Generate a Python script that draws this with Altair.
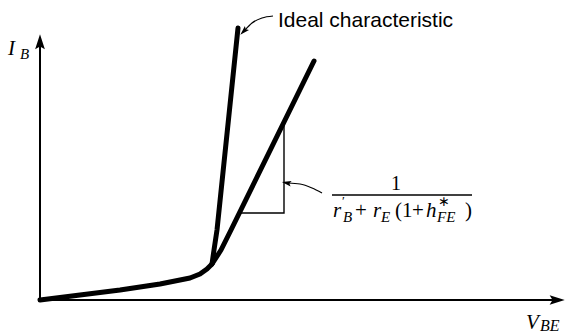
import altair as alt
import pandas as pd

# Base-emitter characteristic, V_BE along x, I_B along y (arbitrary units)
knee_v = [0, 40, 80, 120, 150, 160, 167, 172]
knee_i = [0, 5, 10, 16, 22, 26, 31, 36]

ideal_v = [172, 174, 177, 198]
ideal_i = [36, 50, 70, 272]

real_v = [172, 181, 191, 274]
real_i = [36, 50, 70, 239]

# slope triangle under the real characteristic
tri_v = [199, 244, 244]
tri_i = [87, 87, 177]

W, H = 565, 334
xs = alt.Scale(domain=[-40, 525], nice=False, zero=False)
ys = alt.Scale(domain=[-34, 300], nice=False, zero=False)


def curve(vs, is_, name):
    return pd.DataFrame({"v": vs, "i": is_, "o": range(len(vs)), "s": name})


curves = pd.concat([
    curve(knee_v, knee_i, "knee"),
    curve(ideal_v, ideal_i, "ideal"),
    curve(real_v, real_i, "real"),
])

X = lambda f="v": alt.X(f, type="quantitative", scale=xs, axis=None)
Y = lambda f="i": alt.Y(f, type="quantitative", scale=ys, axis=None)

lines = alt.Chart(curves).mark_line(
    color="black", strokeWidth=5, strokeCap="round", strokeJoin="round"
).encode(x=X(), y=Y(), detail="s:N", order="o:Q")

tri = alt.Chart(pd.DataFrame({"v": tri_v, "i": tri_i, "o": [0, 1, 2]})).mark_line(
    color="black", strokeWidth=1.4
).encode(x=X(), y=Y(), order="o:Q")

# axes with arrowheads
axes_df = pd.DataFrame({
    "v": [0, 0], "i": [0, 0], "v2": [0, 516], "i2": [258, 0]
})
axes = alt.Chart(axes_df).mark_rule(color="black", strokeWidth=2).encode(
    x=X(), y=Y(), x2="v2:Q", y2="i2:Q"
)

ARROW = "M0,-1 L0.5,0.55 L0,0.25 L-0.5,0.55 Z"
heads = alt.Chart(pd.DataFrame({
    "v": [0, 515], "i": [256, 0], "a": [0, 90]
})).mark_point(shape=ARROW, filled=True, color="black", opacity=1, size=380).encode(
    x=X(), y=Y(), angle=alt.Angle("a:Q", scale=None)
)

# curved pointer arrows
ptr = pd.concat([
    curve([233, 222, 212, 205], [284, 282, 277, 270], "p1"),
    curve([282, 272, 260, 248], [107, 112, 116, 117], "p2"),
])
pointers = alt.Chart(ptr).mark_line(
    color="black", strokeWidth=1.2, interpolate="monotone"
).encode(x=X(), y=Y(), detail="s:N", order="o:Q")

ptr_heads = alt.Chart(pd.DataFrame({
    "v": [204, 247], "i": [269, 117], "a": [225, 280]
})).mark_point(shape="M0,-1 L0.55,0.8 L0,0.45 L-0.55,0.8 Z", filled=True,
               color="black", opacity=1, size=110).encode(
    x=X(), y=Y(), angle=alt.Angle("a:Q", scale=None)
)

label = alt.Chart(pd.DataFrame({"v": [238], "i": [273], "t": ["Ideal characteristic"]})).mark_text(
    font="Liberation Sans", fontSize=21,
    align="left", baseline="alphabetic", color="black"
).encode(x=X(), y=Y(), text="t:N")

SERIF = "serif"

italic_df = pd.DataFrame({
    "v": [-32, -20, 486, 500, 293, 303, 333, 341, 386, 397],
    "i": [245, 241, -29, -31, 83, 78, 83, 78, 83, 78],
    "t": ["I", "B", "V", "BE", "r", "B", "r", "E", "h", "FE"],
    "fs": [21, 15, 21, 16, 21, 15, 21, 15, 21, 15],
})
italics = alt.Chart(italic_df).mark_text(
    font=SERIF, fontStyle="italic", align="left", baseline="alphabetic", color="black"
).encode(x=X(), y=Y(), text="t:N", size=alt.Size("fs:Q", scale=None, legend=None))

upright_df = pd.DataFrame({
    "v": [351, 302, 315, 355, 372, 398, 425],
    "i": [110, 95, 83, 83, 83, 94, 83],
    "t": ["1", "′", "+", "(1", "+", "∗", ")"],
    "fs": [20, 13, 21, 21, 21, 14, 21],
})
uprights = alt.Chart(upright_df).mark_text(
    font=SERIF, align="left", baseline="alphabetic", color="black"
).encode(x=X(), y=Y(), text="t:N", size=alt.Size("fs:Q", scale=None, legend=None))

bar = alt.Chart(pd.DataFrame({"v": [292], "v2": [432], "i": [105]})).mark_rule(
    color="black", strokeWidth=1.3
).encode(x=X(), x2="v2:Q", y=Y())

chart = alt.layer(
    axes, heads, tri, lines, pointers, ptr_heads, label, italics, uprights, bar
).properties(width=W, height=H, padding=0, autosize="none").configure_view(stroke=None)

chart.save("out.html", embed_options={"renderer": "svg", "actions": False})
